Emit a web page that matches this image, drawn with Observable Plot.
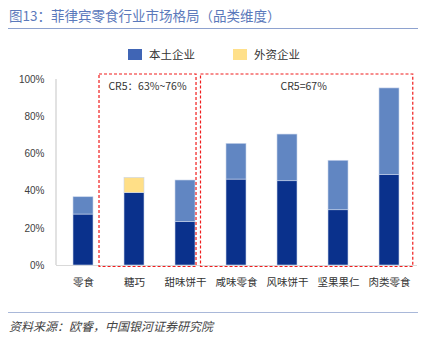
<!DOCTYPE html>
<html>
<head>
<meta charset="utf-8">
<script src="https://cdn.jsdelivr.net/npm/d3@7"></script>
<script src="https://cdn.jsdelivr.net/npm/@observablehq/plot@0.6"></script>
<style>
  body { margin: 0; background: #fff; }
  #wrap { position: relative; width: 427px; height: 342px; background: #fff; overflow: hidden;
          font-family: "Noto Sans CJK SC", "Noto Sans", sans-serif; }
  .abs { position: absolute; white-space: nowrap; }
</style>
</head>
<body>
<div id="wrap">
  <div class="abs" id="title" style="left:9px; top:6px; font-size:13.5px; color:#5b79bb; line-height:18px;"></div>
  <div class="abs" style="left:8px; top:27.5px; width:410px; height:1.5px; background:#8ea2cf;"></div>
  <div class="abs" id="legend" style="left:128px; top:46px; height:16px; font-size:11.5px; color:#333; line-height:16px;"></div>
  <div class="abs" id="chart" style="left:0; top:62px;"></div>
  <div class="abs" style="left:8px; top:311.5px; width:410px; height:1.5px; background:#a9b8d9;"></div>
  <div class="abs" id="caption" style="left:9px; top:317px; font-size:12px; font-style:italic; color:#444; line-height:18px;"></div>
</div>
<script>
// ---- data ----
const titleText = "图13：菲律宾零食行业市场格局（品类维度）";
const captionText = "资料来源：欧睿，中国银河证券研究院";
const categories = ["零食", "糖巧", "甜味饼干", "咸味零食", "风味饼干", "坚果果仁", "肉类零食"];
const lowerShare = [27.4, 38.9, 23.5, 46.2, 45.3, 29.7, 48.6];
const upperShare = [9.3, 8.2, 22.2, 19.2, 25.1, 26.6, 46.6];
const upperType = ["本土企业", "外资企业", "本土企业", "本土企业", "本土企业", "本土企业", "本土企业"];
const legendLabels = ["本土企业", "外资企业"];
const yTicks = [0, 20, 40, 60, 80, 100];
const groupLabels = ["CR5：63%~76%", "CR5=67%"];
const groupFirst = ["糖巧", "咸味零食"];
const groupLast = ["甜味饼干", "肉类零食"];

// ---- styles ----
const darkBlue = "#0a318c";
const colors = {"本土企业": "#6186c2", "外资企业": "#ffdf87"};
const legendColors = {"本土企业": "#4065b5", "外资企业": "#ffe08a"};

document.getElementById("title").textContent = titleText;
document.getElementById("caption").textContent = captionText;

const legend = document.getElementById("legend");
legendLabels.forEach((lab, i) => {
  const item = document.createElement("span");
  item.style.cssText = `position:absolute; left:${i * 105}px; top:0; display:flex; align-items:center;`;
  item.innerHTML = `<span style="display:inline-block;width:13.5px;height:11px;background:${legendColors[lab]};margin-right:7.5px;"></span><span>${lab}</span>`;
  legend.appendChild(item);
});

const rows = [];
categories.forEach((c, i) => {
  rows.push({cat: c, part: "lower", value: lowerShare[i]});
  rows.push({cat: c, part: upperType[i], value: upperShare[i]});
});

const plot = Plot.plot({
  width: 427,
  height: 230,
  marginTop: 17,
  marginBottom: 27,
  marginLeft: 56,
  marginRight: 10,
  style: {fontFamily: "'Noto Sans CJK SC', sans-serif", background: "transparent", overflow: "visible"},
  x: {type: "band", domain: categories, paddingInner: 0.6, paddingOuter: 0.3, label: null},
  y: {domain: [0, 100], label: null},
  marks: [
    Plot.ruleY([0], {stroke: "#d9d9d9", strokeWidth: 1.2}),
    Plot.barY(rows, {
      x: "cat", y: "value",
      fill: d => d.part === "lower" ? darkBlue : colors[d.part],
      stroke: "#c9d5ec", strokeWidth: 0.6
    }),
    Plot.axisY({ticks: yTicks, tickFormat: d => d + "%", tickSize: 0, tickPadding: 12,
      fontSize: 10, fill: "#404040", fontFamily: "'Liberation Sans', Arial, sans-serif", label: null}),
    Plot.axisX({tickSize: 0, tickPadding: 13, fontSize: 10.5, fill: "#333", label: null})
  ]
});
document.getElementById("chart").appendChild(plot);

// ---- annotations derived from the scales ----
const xs = plot.scale("x");
const ys = plot.scale("y");
const bw = xs.bandwidth;
const step = xs.apply(categories[1]) - xs.apply(categories[0]);
const svg = d3.select(plot);
const y0 = ys.apply(0), y100 = ys.apply(100);

// y axis line
svg.append("line")
  .attr("x1", 56).attr("x2", 56)
  .attr("y1", y100).attr("y2", y0)
  .attr("stroke", "#d9d9d9").attr("stroke-width", 1.5);

const leftOff = [-0.49, -0.5];
const rightOff = [0.02, 0.27];
groupLabels.forEach((lab, i) => {
  const x1 = xs.apply(groupFirst[i]) + leftOff[i] * step;
  const x2 = xs.apply(groupLast[i]) + bw + rightOff[i] * step;
  const top = y100 - 5, bottom = y0 + 1.5;
  svg.append("rect")
    .attr("x", x1).attr("y", top)
    .attr("width", x2 - x1).attr("height", bottom - top)
    .attr("fill", "none").attr("stroke", "#f01c1c")
    .attr("stroke-width", 1.2).attr("stroke-dasharray", "3,2");
  svg.append("text")
    .attr("x", (x1 + x2) / 2 - (i === 1 ? 3 : 0)).attr("y", top + 12)
    .attr("dy", "0.35em")
    .attr("text-anchor", "middle")
    .attr("font-size", 10.5).attr("fill", "#333")
    .attr("font-family", "'Noto Sans CJK SC', sans-serif")
    .text(lab);
});
</script>
</body>
</html>
